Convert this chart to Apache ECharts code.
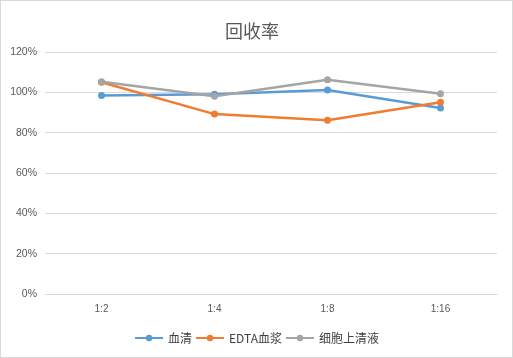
<!DOCTYPE html>
<html><head><meta charset="utf-8">
<script src="https://cdn.jsdelivr.net/npm/echarts@6/dist/echarts.min.js"></script>
<style>html,body{margin:0;padding:0;background:#fff}#c{width:511px;height:356px;border:1px solid #d9d9d9}</style>
</head><body><div id="c"></div>
<script>
const categories = ['1:2','1:4','1:8','1:16'];
const serum = [98.4, 99.0, 101.2, 92.2];
const edta = [105.0, 89.2, 86.2, 95.1];
const supernatant = [105.2, 98.1, 106.2, 99.3];
const seriesNames = ['血清','EDTA血浆','细胞上清液'];
const colors = ['#5B9BD5','#ED7D31','#A5A5A5'];
const chart = echarts.init(document.getElementById('c'));
const mk = (name, data, color) => ({
  name, type:'line', data, symbol:'circle', symbolSize:7,
  lineStyle:{width:2.5,color}, itemStyle:{color}, z: 2
});
chart.setOption({
  animation:false,
  title:{text:'回收率',left:219,top:16,textStyle:{fontFamily:'Noto Sans CJK SC',fontWeight:'normal',fontSize:18,color:'#595959'}},
  legend:{bottom:8,itemGap:3,itemWidth:28,itemHeight:8,textStyle:{fontFamily:'Noto Sans CJK SC',fontSize:12,color:'#404040'},data:seriesNames},
  grid:{left:44,right:15,top:51,bottom:63},
  xAxis:{type:'category',data:categories,boundaryGap:true,
    axisLine:{lineStyle:{color:'#d9d9d9'}},axisTick:{show:false},
    axisLabel:{color:'#595959',fontSize:10,fontFamily:'Liberation Sans',margin:10}},
  yAxis:{type:'value',min:0,max:120,interval:20,
    axisLine:{show:false},axisTick:{show:false},
    splitLine:{lineStyle:{color:'#d9d9d9'}},
    axisLabel:{formatter:'{value}%',color:'#595959',fontSize:10.5,fontFamily:'Liberation Sans',margin:8}},
  series:[mk(seriesNames[0],serum,colors[0]),mk(seriesNames[1],edta,colors[1]),mk(seriesNames[2],supernatant,colors[2])]
});
</script></body></html>
